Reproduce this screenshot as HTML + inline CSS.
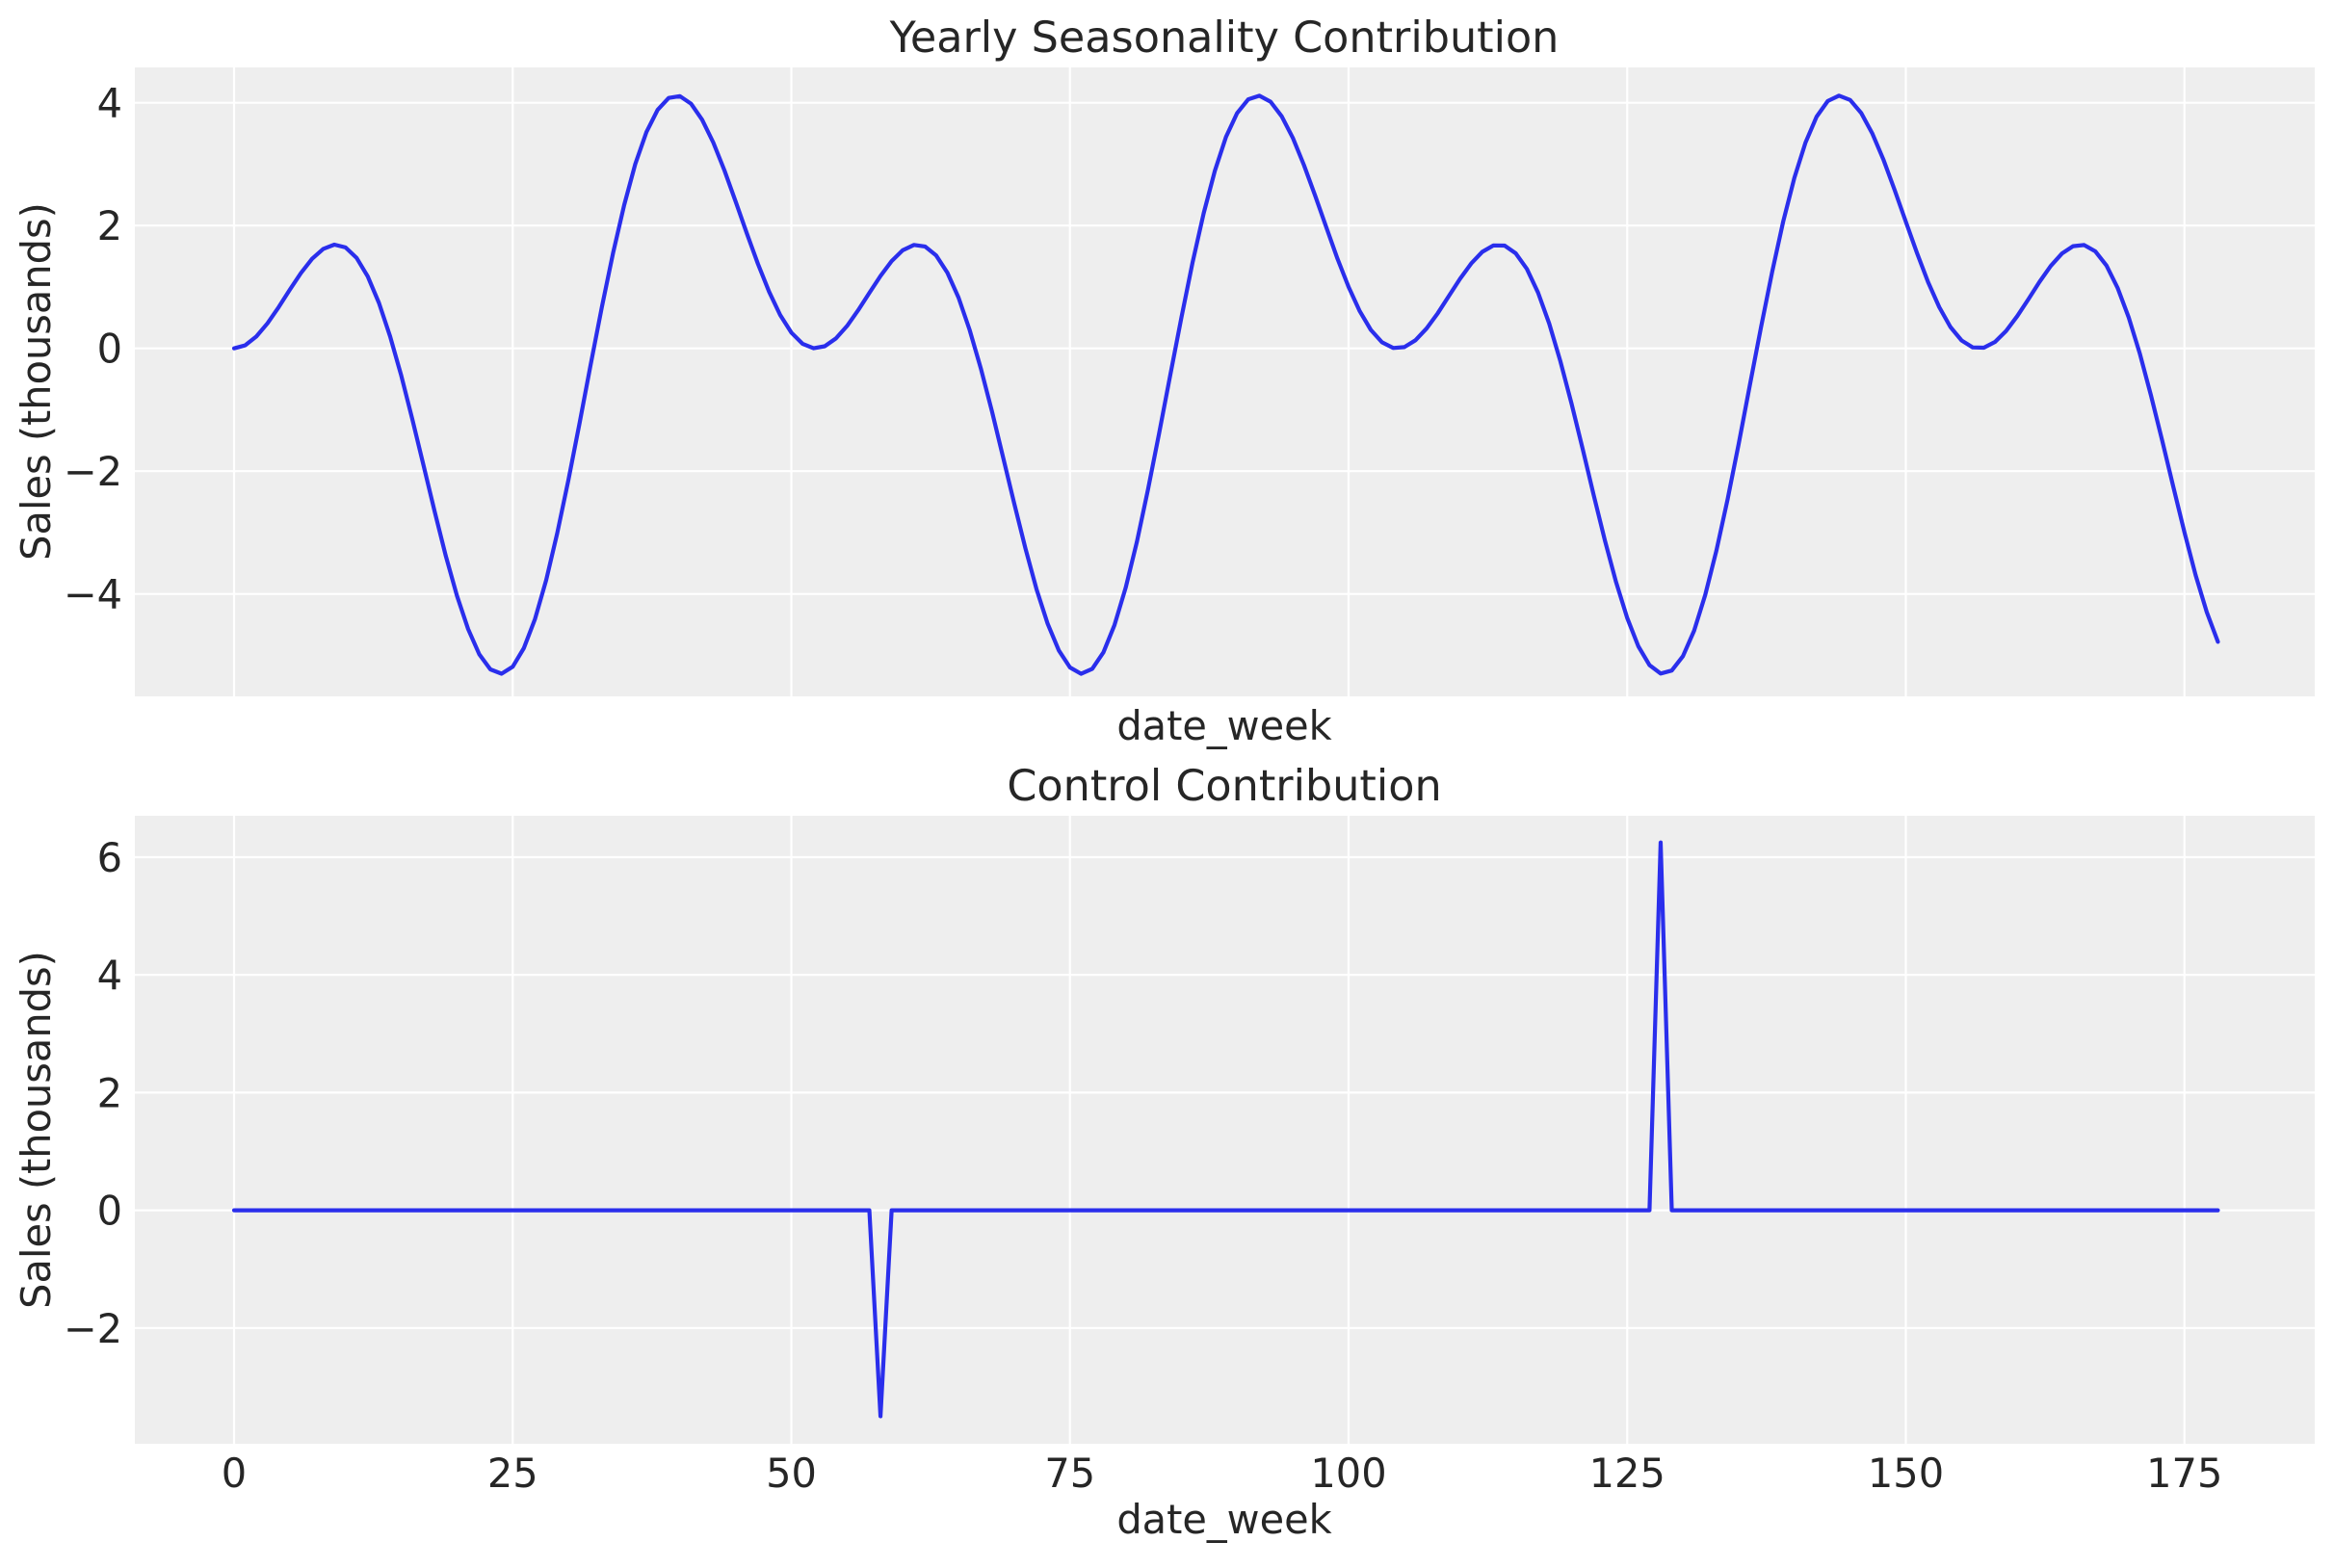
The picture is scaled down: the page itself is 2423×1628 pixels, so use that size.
<!DOCTYPE html>
<html><head><meta charset="utf-8"><style>
html,body{margin:0;padding:0;background:#fff;}
svg text{font-family:"DejaVu Sans","Liberation Sans",sans-serif;fill:#262626;}
</style></head><body>
<svg id="s" width="2423" height="1623" viewBox="0 0 2423 1623" xmlns="http://www.w3.org/2000/svg">
<rect x="0" y="0" width="2423" height="1623" fill="#fff"/>
<g id="g"></g>
<text x="1271" y="54" font-size="44.5" text-anchor="middle">Yearly Seasonality Contribution</text>
<text x="1271" y="768" font-size="41.5" text-anchor="middle">date_week</text>
<text x="1271" y="831" font-size="44.5" text-anchor="middle">Control Contribution</text>
<text x="1271" y="1592" font-size="41.5" text-anchor="middle">date_week</text>
<text transform="translate(52,396) rotate(-90)" font-size="41.5" text-anchor="middle">Sales (thousands)</text>
<text transform="translate(52,1173) rotate(-90)" font-size="41.5" text-anchor="middle">Sales (thousands)</text>
</svg>
<script>
(function(){
var g=document.getElementById('g'),h='';
var L=140,R=2403,x0=243,ux=11.57;
function X(t){return x0+t*ux;}
var T1=70,B1=723,y01=361.7,uy1=63.75;
var T2=847,B2=1499,y02=1256.6,uy2=61.1;
h+='<rect x="'+L+'" y="'+T1+'" width="'+(R-L)+'" height="'+(B1-T1)+'" fill="#eeeeee"/>';
h+='<rect x="'+L+'" y="'+T2+'" width="'+(R-L)+'" height="'+(B2-T2)+'" fill="#eeeeee"/>';
[0,25,50,75,100,125,150,175].forEach(function(v){var x=X(v);
 h+='<line x1="'+x+'" x2="'+x+'" y1="'+T1+'" y2="'+B1+'" stroke="#fff" stroke-width="2.2"/>';
 h+='<line x1="'+x+'" x2="'+x+'" y1="'+T2+'" y2="'+B2+'" stroke="#fff" stroke-width="2.2"/>';
 h+='<text x="'+x+'" y="1544" font-size="41.5" text-anchor="middle">'+v+'</text>';
});
function lab(v){return v<0?'\u2212'+(-v):''+v;}
[-4,-2,0,2,4].forEach(function(v){var y=y01-v*uy1;
 h+='<line x1="'+L+'" x2="'+R+'" y1="'+y+'" y2="'+y+'" stroke="#fff" stroke-width="2.2"/>';
 h+='<text x="127" y="'+(y+15)+'" font-size="41.5" text-anchor="end">'+lab(v)+'</text>';
});
[-2,0,2,4,6].forEach(function(v){var y=y02-v*uy2;
 h+='<line x1="'+L+'" x2="'+R+'" y1="'+y+'" y2="'+y+'" stroke="#fff" stroke-width="2.2"/>';
 h+='<text x="127" y="'+(y+15)+'" font-size="41.5" text-anchor="end">'+lab(v)+'</text>';
});
var A=-2.424,C=2.4146,D=0.8436,P=52.18,p='';
for(var t=0;t<=178;t++){var th=2*Math.PI*t/P;
 var f=A*(1-Math.cos(th))+C*(1-Math.cos(2*th))+D*(Math.sin(2*th)-2*Math.sin(th));
 p+=(t?'L':'M')+X(t).toFixed(1)+','+(y01-f*uy1).toFixed(1);}
h+='<path d="'+p+'" fill="none" stroke="#2a2eec" stroke-width="4.2" stroke-linejoin="round" stroke-linecap="round"/>';
var q='M'+X(0)+','+y02+'L'+X(57)+','+y02+'L'+X(58)+','+(y02+3.5*uy2)+'L'+X(59)+','+y02+'L'+X(127)+','+y02+'L'+X(128)+','+(y02-6.25*uy2)+'L'+X(129)+','+y02+'L'+X(178)+','+y02;
h+='<path d="'+q+'" fill="none" stroke="#2a2eec" stroke-width="4.2" stroke-linejoin="round" stroke-linecap="round"/>';
g.innerHTML=h;
})();
</script>
</body></html>
